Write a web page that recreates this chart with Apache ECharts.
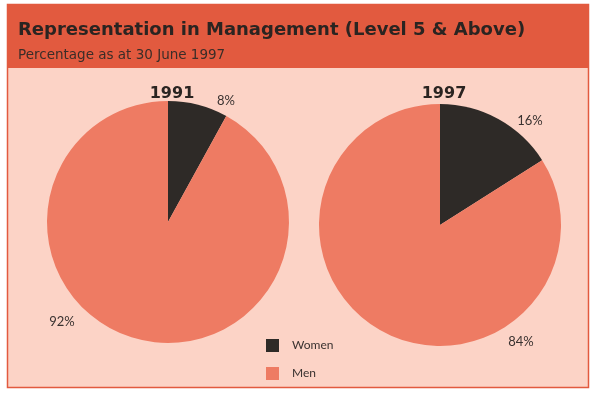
<!DOCTYPE html>
<html><head><meta charset="utf-8">
<script src="https://cdn.jsdelivr.net/npm/echarts@6/dist/echarts.min.js"></script>
<style>html,body{margin:0;padding:0;background:#fff}#c{width:600px;height:393px}</style>
</head><body><div id="c"></div>
<script>
const categories = ['Women', 'Men'];
const years = ['1991', '1997'];
const values1991 = [8, 92];
const values1997 = [16, 84];
const labelPos1991 = [[226, 101], [62, 322]];
const labelPos1997 = [[530, 121], [521, 342]];

const RED = '#e25a3f', PINK = '#fcd3c6', MEN = '#ee7b63', WOMEN = '#2e2a27';
const FONT = 'Lato';
const TFONT = '"DejaVu Sans"';

function mkData(vals){ return categories.map((c,i)=>({name:c, value:vals[i]})); }
function mkSeries(vals, center, pos){
  return {
    type:'pie', center:center, radius:121, startAngle:90, clockwise:true,
    silent:true, animation:false,
    data: mkData(vals),
    label:{show:true, position:'outside', formatter:'{c}%', color:'#3a3230', fontFamily:FONT, fontSize:13},
    labelLine:{show:false},
    labelLayout:function(p){ const q = pos[p.dataIndex]; return {x:q[0], y:q[1], align:'center', verticalAlign:'middle'}; }
  };
}

const chart = echarts.init(document.getElementById('c'), null, {renderer:'canvas'});
chart.setOption({
  backgroundColor:'#fff',
  color:[WOMEN, MEN],
  graphic:[
    {type:'rect', shape:{x:7.5,y:4.5,width:581,height:383}, style:{fill:PINK, stroke:RED, lineWidth:1.5}, z:-10},
    {type:'rect', shape:{x:7,y:4,width:582,height:64}, style:{fill:RED}, z:-9},
    {type:'text', left:18, top:21, style:{text:'Representation in Management (Level 5 & Above)', font:'bold 18px '+TFONT, fill:'#2a2421'}},
    {type:'text', left:18, top:48, style:{text:'Percentage as at 30 June 1997', font:'13.5px '+TFONT, fill:'#3a2d28'}}
  ],
  title:[
    {text:years[0], left:167, top:81, textAlign:'center', textStyle:{fontFamily:TFONT, fontWeight:'bold', fontSize:16, color:'#2a2421'}},
    {text:years[1], left:439, top:81, textAlign:'center', textStyle:{fontFamily:TFONT, fontWeight:'bold', fontSize:16, color:'#2a2421'}}
  ],
  legend:{
    orient:'vertical', left:261, top:334, itemWidth:13, itemHeight:13, itemGap:15,
    icon:'rect', data:categories,
    textStyle:{fontFamily:FONT, fontSize:12, color:'#3a3230', padding:[0,0,0,8]}
  },
  series:[
    mkSeries(values1991, [168, 222], labelPos1991),
    mkSeries(values1997, [440, 225], labelPos1997)
  ]
});
</script></body></html>
